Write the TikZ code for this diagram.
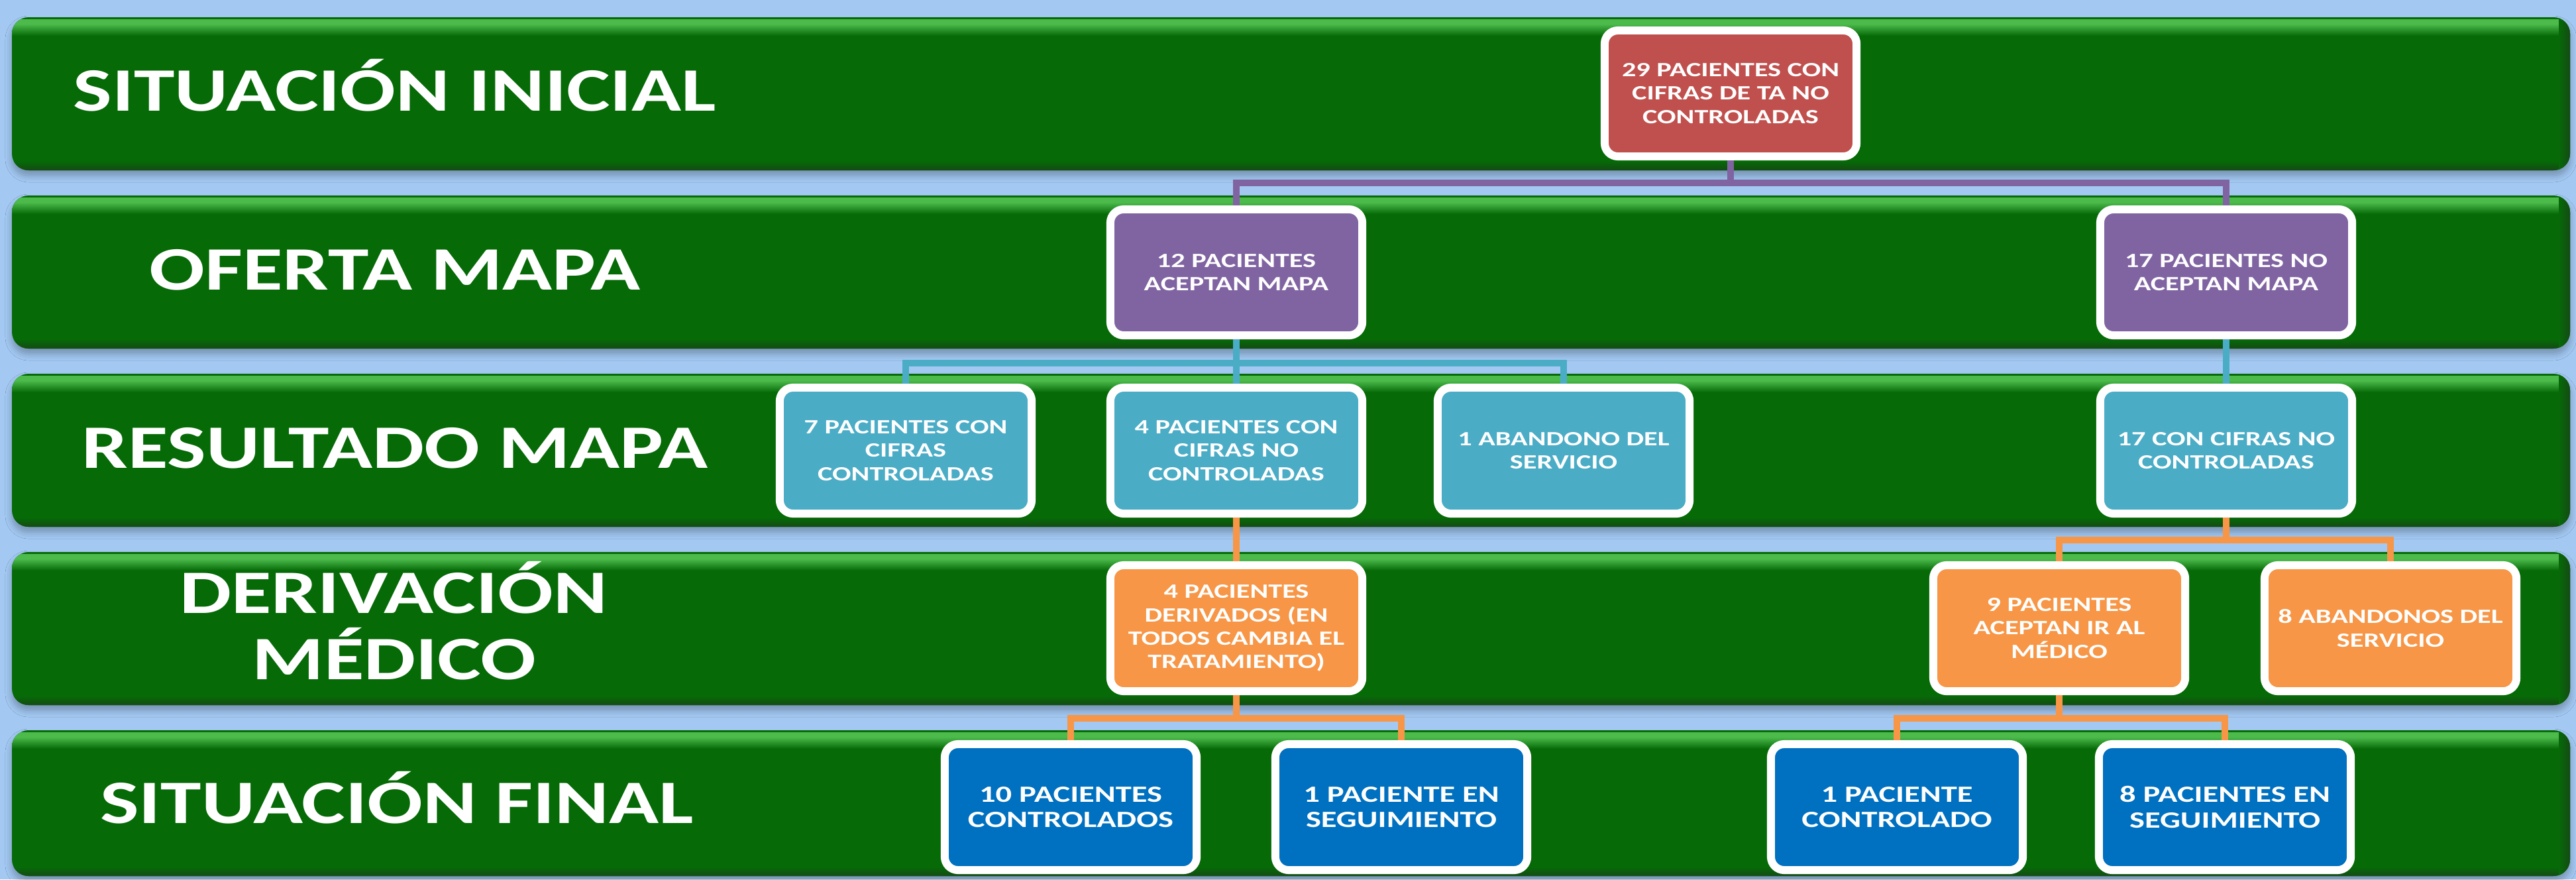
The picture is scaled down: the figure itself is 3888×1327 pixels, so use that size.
\documentclass[tikz,border=0pt]{standalone}
\usepackage{fontspec}
\usetikzlibrary{shadows.blur}
\newfontfamily\labelfont[FakeStretch=1.33]{Carlito}
\newfontfamily\boxfont[FakeStretch=1.38]{Carlito}

\definecolor{bgblue}{HTML}{A3C9F3}
\definecolor{bandgreen}{HTML}{066A07}
\definecolor{bandlight}{HTML}{4CBB4C}
\definecolor{banddark}{HTML}{144A14}
\definecolor{boxred}{HTML}{C0504D}
\definecolor{boxpurple}{HTML}{8064A2}
\definecolor{boxteal}{HTML}{4BACC6}
\definecolor{boxorange}{HTML}{F79646}
\definecolor{boxblue}{HTML}{0070C0}

\tikzset{
	box/.style={draw=white, line width=0.12cm, rounded corners=0.2cm,
		minimum width=3.8cm, minimum height=1.9cm, inner sep=0pt,
		align=center, text=white,
		font=\boxfont\bfseries\fontsize{8.7}{10}\selectfont},
	bigbox/.style={box, font=\boxfont\bfseries\fontsize{10}{11}\selectfont},
	bandlabel/.style={anchor=base, text=white,
		font=\labelfont\bfseries\fontsize{26.5}{29}\selectfont},
	link/.style={line width=0.1cm}
}

\begin{document}
\begin{tikzpicture}[x=0.01cm, y=-0.01cm]
	\useasboundingbox (0,0) rectangle (3888,1327);
	\fill[bgblue] (0,0) rectangle (3888,1327);

	% green bands
	\foreach \t/\b in {26/257, 295/526, 564/795, 833/1064, 1102/1322}{
		\fill[bandgreen, rounded corners=0.25cm,
			blur shadow={shadow xshift=0pt, shadow yshift=-0.08cm, shadow blur radius=0.1cm, shadow opacity=28}]
			(18,\t) rectangle (3879,\b);
		\begin{scope}
			\clip[rounded corners=0.25cm] (18,\t) rectangle (3879,\b);
			\fill[bandlight] (18,\t+3) rectangle (3879,\t+10);
			\shade[top color=bandlight, bottom color=bandgreen] (18,\t+10) rectangle (3879,\t+28);
			\shade[top color=bandgreen, bottom color=banddark] (18,\b-14) rectangle (3879,\b);
			\shade[left color=bandgreen, right color=banddark] (3862,\t) rectangle (3879,\b);
		\end{scope}
	}

	% row labels
	\node[bandlabel] (lini) at (596,167) {SITUACIÓN INICIAL};
	\node[bandlabel] (loferta) at (596,437) {OFERTA MAPA};
	\node[bandlabel] (lres) at (596,706) {RESULTADO MAPA};
	\node[bandlabel] (lderiv) at (594,925) {DERIVACIÓN};
	\node[bandlabel] (lmedico) at (595,1025) {MÉDICO};
	\node[bandlabel] (lfinal) at (599,1242) {SITUACIÓN FINAL};

	% boxes
	\node[box, fill=boxred] (inicio) at (2612,141) {29 PACIENTES CON\\CIFRAS DE TA NO\\CONTROLADAS};

	\node[box, fill=boxpurple] (acepta) at (1866,411) {12 PACIENTES\\ACEPTAN MAPA};
	\node[box, fill=boxpurple] (noacepta) at (3360,411) {17 PACIENTES NO\\ACEPTAN MAPA};

	\node[box, fill=boxteal] (control7) at (1367,680) {7 PACIENTES CON\\CIFRAS\\CONTROLADAS};
	\node[box, fill=boxteal] (nocontrol4) at (1866,680) {4 PACIENTES CON\\CIFRAS NO\\CONTROLADAS};
	\node[box, fill=boxteal] (abandono1) at (2360,680) {1 ABANDONO DEL\\SERVICIO};
	\node[box, fill=boxteal] (nocontrol17) at (3360,680) {17 CON CIFRAS NO\\CONTROLADAS};

	\node[box, fill=boxorange] (derivados4) at (1866,948) {4 PACIENTES\\DERIVADOS (EN\\TODOS CAMBIA EL\\TRATAMIENTO)};
	\node[box, fill=boxorange] (medico9) at (3108,948) {9 PACIENTES\\ACEPTAN IR AL\\MÉDICO};
	\node[box, fill=boxorange] (abandono8) at (3608,948) {8 ABANDONOS DEL\\SERVICIO};

	\node[bigbox, fill=boxblue] (control10) at (1616,1218) {10 PACIENTES\\CONTROLADOS};
	\node[bigbox, fill=boxblue] (seguim1) at (2115,1218) {1 PACIENTE EN\\SEGUIMIENTO};
	\node[bigbox, fill=boxblue] (control1) at (2863,1218) {1 PACIENTE\\CONTROLADO};
	\node[bigbox, fill=boxblue] (seguim8) at (3358,1218) {8 PACIENTES EN\\SEGUIMIENTO};

	% connectors
	\draw[link, boxpurple] (inicio.south) -- ++(0,34) -| (acepta.north);
	\draw[link, boxpurple] (inicio.south) -- ++(0,34) -| (noacepta.north);

	\draw[link, boxteal] (acepta.south) -- ++(0,36) -| (control7.north);
	\draw[link, boxteal] (acepta.south) -- (nocontrol4.north);
	\draw[link, boxteal] (acepta.south) -- ++(0,36) -| (abandono1.north);
	\draw[link, boxteal] (noacepta.south) -- (nocontrol17.north);

	\draw[link, boxorange] (nocontrol4.south) -- (derivados4.north);
	\draw[link, boxorange] (nocontrol17.south) -- ++(0,34) -| (medico9.north);
	\draw[link, boxorange] (nocontrol17.south) -- ++(0,34) -| (abandono8.north);

	\draw[link, boxorange] (derivados4.south) -- ++(0,35) -| (control10.north);
	\draw[link, boxorange] (derivados4.south) -- ++(0,35) -| (seguim1.north);
	\draw[link, boxorange] (medico9.south) -- ++(0,35) -| (control1.north);
	\draw[link, boxorange] (medico9.south) -- ++(0,35) -| (seguim8.north);
\end{tikzpicture}
\end{document}
